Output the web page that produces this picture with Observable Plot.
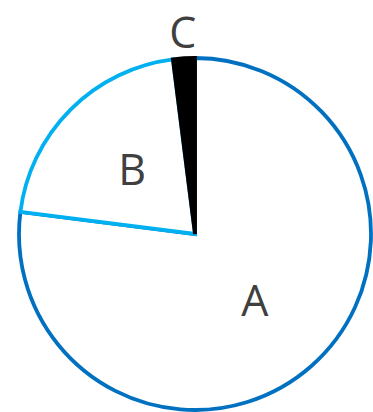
<!DOCTYPE html>
<html><head><meta charset="utf-8">
<script src="https://cdn.jsdelivr.net/npm/d3@7"></script>
<script src="https://cdn.jsdelivr.net/npm/@observablehq/plot@0.6"></script>
<style>body{margin:0;background:#fff}</style>
</head><body><div id="chart"></div>
<script>
const categories = ["A", "B", "C"];
const values = [77, 21, 2];
const strokeColors = ["#0070C0", "#00B0F0", "#000000"];
const fillColors = ["#ffffff", "#ffffff", "#000000"];

const rows = categories.map((c, i) => ({category: c, value: values[i]}));
const arcs = d3.pie().value(d => d.value)(rows);

const strokeScale = Plot.scale({color: {type: "ordinal", domain: categories, range: strokeColors}});
const fillScale = Plot.scale({color: {type: "ordinal", domain: categories, range: fillColors}});

const labels = arcs.map(a => {
  const mid = (a.startAngle + a.endAngle) / 2;
  const r = a.data.category === "C" ? 1.14 : 0.51;
  return {category: a.data.category, x: r * Math.sin(mid), y: r * Math.cos(mid)};
});

function slices(index, scales, vals, dimensions, context) {
  const cx = scales.x(0), cy = scales.y(0), R = scales.x(1) - scales.x(0);
  const arc = d3.arc().innerRadius(0).outerRadius(R);
  const g = d3.create("svg:g").attr("transform", `translate(${cx},${cy})`);
  g.selectAll("path").data(arcs).join("path")
    .attr("d", arc)
    .attr("fill", d => fillScale.apply(d.data.category))
    .attr("stroke", d => strokeScale.apply(d.data.category))
    .attr("stroke-width", 3.8)
    .attr("stroke-linejoin", "miter");
  return g.node();
}

const chart = Plot.plot({
  width: 373,
  height: 412,
  margin: 0,
  x: {domain: [-1, 1], range: [19, 371], axis: null},
  y: {domain: [-1, 1], range: [410, 58], axis: null},
  style: {background: "#ffffff", overflow: "visible", fontFamily: "Open Sans"},
  marks: [
    slices,
    Plot.text(labels, {x: "x", y: "y", text: "category", fontSize: 43, fontFamily: "Open Sans", fill: "#404040"})
  ]
});
document.getElementById("chart").appendChild(chart);
</script>
</body></html>
